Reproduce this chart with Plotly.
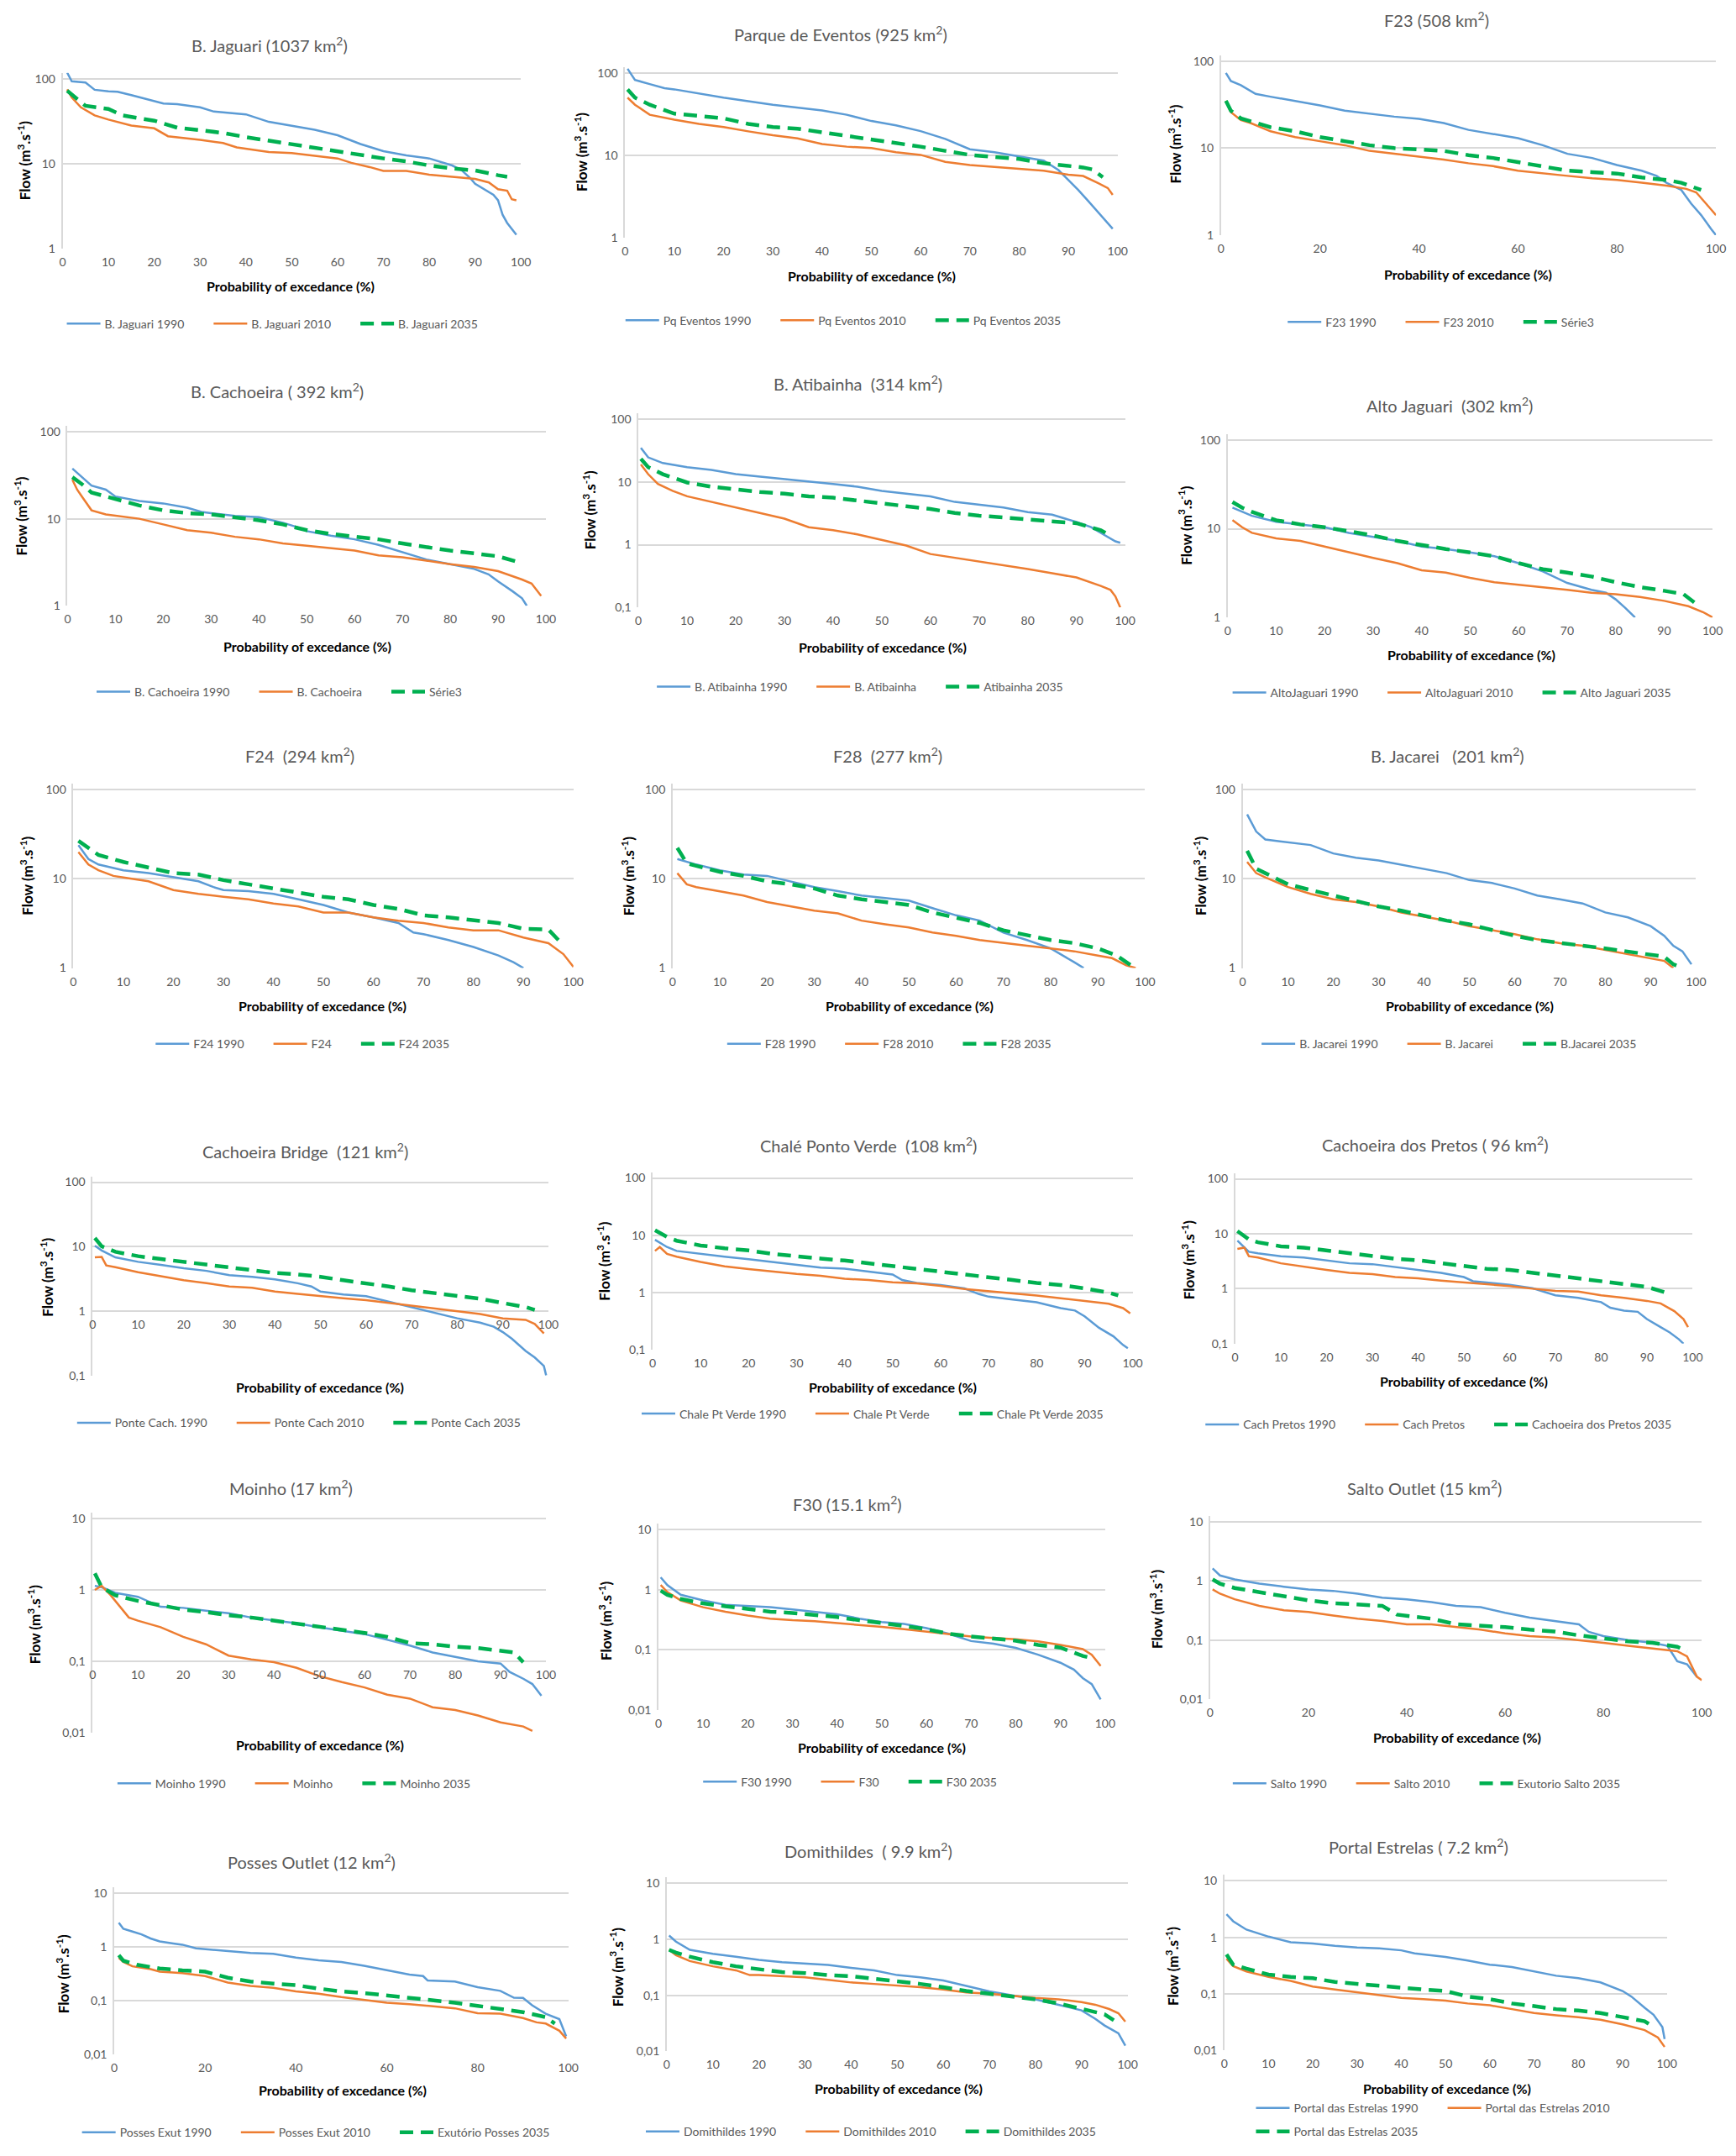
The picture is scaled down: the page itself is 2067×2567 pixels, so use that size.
import math
import plotly.graph_objects as go

W, H = 2067, 2567

# flow duration curves (x = probability of excedance %, y = flow m3/s)
JAGUARI_X90 = [1, 2, 5, 7, 10, 12, 15, 20, 22, 25, 30, 33, 40, 45, 50, 55, 60, 65, 70, 75, 80, 85, 87, 89, 90, 92, 94, 95, 96, 97, 99]
JAGUARI_Y90 = [118, 93, 90, 74, 71, 70, 64, 55, 51, 50, 46, 41, 38, 31, 28, 25, 21.6, 17, 14, 12.5, 11.5, 9.5, 8.4, 6.7, 5.8, 5.0, 4.3, 3.7, 2.5, 2.0, 1.45]
JAGUARI_X10 = [1, 2, 4, 7, 10, 15, 20, 23, 30, 35, 38, 45, 50, 55, 60, 63, 67, 70, 75, 80, 85, 90, 93, 95, 97, 98, 99]
JAGUARI_Y10 = [75, 60, 46, 37, 33, 28, 26, 21, 19, 17.5, 15.5, 13.7, 13.3, 12.3, 11.5, 10.2, 9.1, 8.2, 8.2, 7.4, 7.0, 6.6, 6.0, 5.0, 4.8, 3.8, 3.7]
JAGUARI_X35 = [1, 3, 5, 10, 13, 17, 20, 25, 30, 35, 40, 45, 50, 55, 60, 65, 70, 75, 80, 85, 90, 95, 97]
JAGUARI_Y35 = [72, 58, 48, 44, 37, 34, 32, 26.5, 25, 23, 20.5, 18.6, 16.6, 15.4, 13.7, 12.5, 11.5, 10.6, 9.5, 8.8, 8.3, 7.3, 7.0]

PARQUE_X90 = [0.5, 2, 5, 8, 10, 20, 30, 40, 45, 50, 55, 60, 65, 70, 75, 80, 85, 88, 90, 92, 94, 96, 98, 99]
PARQUE_Y90 = [112, 82, 73, 65, 63, 50, 41, 35, 31, 26, 23, 19.6, 15.8, 11.8, 10.9, 9.7, 8.6, 6.6, 5.0, 3.8, 2.8, 2.05, 1.5, 1.28]
PARQUE_X10 = [0.5, 2, 5, 10, 15, 20, 25, 30, 35, 40, 45, 50, 55, 60, 65, 70, 75, 80, 85, 90, 93, 96, 98, 99]
PARQUE_Y10 = [50, 41, 31, 27, 24, 22, 19.5, 17.5, 16, 13.7, 12.7, 12.2, 10.9, 10.1, 8.3, 7.6, 7.2, 6.8, 6.5, 5.8, 5.6, 4.6, 4.0, 3.3]
PARQUE_X35 = [0.5, 2, 5, 10, 15, 20, 25, 30, 35, 40, 45, 50, 55, 60, 65, 70, 75, 80, 85, 90, 93, 95, 97]
PARQUE_Y35 = [63, 50, 41, 32, 30, 28, 24, 22, 21, 19, 17.5, 15.5, 14, 12.7, 11.3, 10.1, 9.5, 9.0, 8.0, 7.4, 7.1, 6.7, 5.4]

F23_X90 = [1, 2, 4, 7, 10, 15, 20, 25, 30, 35, 40, 45, 50, 55, 60, 65, 70, 75, 80, 85, 88, 90, 93, 95, 97, 99, 100]
F23_Y90 = [73, 59, 53, 42, 39, 35, 31, 27, 25, 23, 21.7, 19.4, 16.2, 14.5, 13, 10.8, 8.6, 7.7, 6.4, 5.5, 4.8, 4.0, 3.3, 2.3, 1.7, 1.18, 1.0]
F23_X10 = [1, 2, 4, 6, 10, 15, 20, 25, 30, 35, 40, 45, 50, 55, 60, 65, 70, 75, 80, 85, 90, 94, 96, 98, 100]
F23_Y10 = [35, 26, 21, 19.4, 15.6, 13.4, 12, 10.8, 9.3, 8.6, 8.0, 7.4, 6.7, 6.2, 5.5, 5.1, 4.8, 4.5, 4.3, 4.0, 3.7, 3.4, 3.1, 2.3, 1.7]
F23_X35 = [1, 2, 4, 7, 10, 15, 20, 25, 30, 35, 40, 45, 50, 55, 60, 65, 70, 75, 80, 85, 90, 93, 97]
F23_Y35 = [35, 27, 22, 19.4, 17.4, 15.6, 13.4, 12, 10.8, 10, 9.6, 9.3, 8.3, 7.7, 6.9, 6.2, 5.5, 5.3, 5.1, 4.6, 4.3, 4.0, 3.3]

CACHOEIRA_X90 = [1, 3, 5, 8, 10, 15, 20, 25, 28, 30, 35, 40, 45, 48, 50, 55, 60, 65, 70, 75, 80, 85, 88, 90, 93, 95, 96]
CACHOEIRA_Y90 = [37.7, 30, 24, 21.6, 18, 16, 15, 13.4, 12, 11.6, 10.8, 10.4, 9.0, 8.0, 7.2, 6.4, 5.8, 5.0, 4.1, 3.4, 3.0, 2.65, 2.3, 1.9, 1.47, 1.22, 1.0]
CACHOEIRA_X10 = [1, 2, 3, 5, 8, 10, 15, 20, 25, 30, 35, 40, 45, 50, 55, 60, 65, 70, 75, 80, 85, 90, 95, 97, 99]
CACHOEIRA_Y10 = [28, 21.6, 18, 12.5, 11.2, 10.8, 10, 8.6, 7.4, 6.9, 6.2, 5.8, 5.2, 4.9, 4.6, 4.3, 3.8, 3.6, 3.3, 3.0, 2.8, 2.5, 2.0, 1.8, 1.3]
CACHOEIRA_X35 = [1, 3, 5, 10, 15, 20, 25, 30, 35, 40, 45, 50, 55, 60, 65, 70, 75, 80, 85, 90, 94]
CACHOEIRA_Y35 = [30, 25, 20, 17, 14.2, 12.5, 11.6, 11.2, 10.4, 9.6, 8.6, 7.4, 6.7, 6.3, 5.8, 5.2, 4.7, 4.3, 4.0, 3.7, 3.2]

ATIBAINHA_X90 = [0.5, 2, 5, 10, 15, 20, 25, 30, 35, 40, 45, 50, 55, 60, 65, 70, 75, 80, 85, 90, 93, 95, 98, 99]
ATIBAINHA_Y90 = [35, 24.6, 20, 17.2, 15.5, 13.3, 12.1, 11.1, 10.3, 9.3, 8.4, 7.2, 6.5, 5.9, 4.8, 4.3, 3.9, 3.3, 3.0, 2.3, 1.9, 1.54, 1.13, 1.07]
ATIBAINHA_X10 = [0.5, 2, 4, 7, 10, 15, 20, 25, 30, 35, 40, 45, 50, 55, 60, 65, 70, 75, 80, 85, 90, 95, 97, 98, 99]
ATIBAINHA_Y10 = [19, 13.3, 9.3, 7.2, 5.9, 4.8, 3.9, 3.2, 2.6, 1.9, 1.7, 1.46, 1.19, 0.97, 0.71, 0.62, 0.55, 0.48, 0.41, 0.35, 0.30, 0.22, 0.19, 0.15, 0.1]
ATIBAINHA_X35 = [0.5, 2, 5, 10, 15, 20, 25, 30, 35, 40, 45, 50, 55, 60, 65, 70, 75, 80, 85, 90, 95, 97]
ATIBAINHA_Y35 = [23.4, 17.2, 13.3, 9.8, 8.4, 7.6, 6.9, 6.5, 5.9, 5.6, 5.0, 4.5, 4.1, 3.7, 3.2, 2.9, 2.7, 2.6, 2.4, 2.2, 1.7, 1.39]

ALTO_X90 = [1, 3, 5, 10, 15, 20, 25, 30, 35, 40, 45, 50, 55, 60, 65, 70, 75, 78, 80, 82, 84]
ALTO_Y90 = [17.3, 15.5, 14, 12, 11.2, 10.4, 9.0, 8.1, 7.3, 6.3, 5.9, 5.4, 4.9, 4.1, 3.3, 2.45, 2.05, 1.9, 1.6, 1.28, 1.0]
ALTO_X10 = [1, 3, 5, 10, 15, 20, 25, 30, 35, 40, 45, 50, 55, 60, 65, 70, 75, 80, 85, 90, 95, 98, 100]
ALTO_Y10 = [12.5, 10.4, 9.0, 7.8, 7.3, 6.3, 5.4, 4.7, 4.1, 3.4, 3.2, 2.8, 2.5, 2.35, 2.2, 2.05, 1.9, 1.83, 1.7, 1.54, 1.34, 1.15, 1.0]
ALTO_X35 = [1, 3, 5, 10, 15, 20, 25, 30, 35, 40, 45, 50, 55, 60, 65, 70, 75, 80, 85, 90, 94, 97]
ALTO_Y35 = [20, 17.3, 15.5, 12.5, 11.2, 10.4, 9.4, 8.4, 7.3, 6.5, 5.9, 5.4, 4.9, 4.1, 3.5, 3.2, 2.9, 2.5, 2.2, 2.0, 1.83, 1.37]

F24_X90 = [1, 3, 5, 10, 15, 20, 25, 28, 30, 35, 40, 45, 50, 55, 60, 65, 68, 70, 75, 80, 85, 88, 90]
F24_Y90 = [23.9, 16.7, 14.5, 12.5, 11.6, 10.4, 9.4, 8.1, 7.5, 7.3, 6.8, 5.9, 5.1, 4.2, 3.7, 3.2, 2.5, 2.4, 2.06, 1.72, 1.38, 1.16, 1.0]
F24_X10 = [1, 3, 5, 8, 10, 15, 20, 25, 30, 35, 40, 45, 50, 55, 60, 65, 70, 75, 80, 85, 90, 95, 98, 100]
F24_Y10 = [20, 14.5, 12.5, 10.8, 10.4, 9.4, 7.5, 6.8, 6.3, 5.9, 5.3, 4.9, 4.2, 4.2, 3.7, 3.4, 3.2, 2.85, 2.65, 2.65, 2.2, 1.9, 1.43, 1.03]
F24_X35 = [1, 3, 5, 10, 15, 20, 25, 30, 35, 40, 45, 50, 55, 60, 65, 70, 75, 80, 85, 90, 95, 97]
F24_Y35 = [26.7, 22.3, 18.6, 15.5, 13.4, 11.6, 11.2, 9.7, 8.7, 7.8, 7.0, 6.3, 5.9, 5.1, 4.6, 3.9, 3.7, 3.4, 3.2, 2.75, 2.7, 2.06]

F28_X90 = [1, 3, 5, 10, 15, 20, 25, 30, 35, 40, 45, 50, 55, 60, 65, 70, 75, 80, 85, 87]
F28_Y90 = [16.7, 15.5, 14.5, 12.5, 11.2, 10.8, 9.4, 8.1, 7.3, 6.5, 6.1, 5.7, 4.7, 3.9, 3.4, 2.5, 2.06, 1.66, 1.16, 1.0]
F28_X10 = [1, 3, 5, 10, 15, 20, 25, 30, 35, 40, 45, 50, 55, 60, 65, 70, 75, 80, 85, 90, 93, 96, 98]
F28_Y10 = [11.6, 8.7, 8.1, 7.3, 6.5, 5.5, 4.9, 4.4, 4.1, 3.4, 3.1, 2.85, 2.5, 2.3, 2.06, 1.9, 1.78, 1.66, 1.54, 1.38, 1.29, 1.07, 1.0]
F28_X35 = [1, 3, 5, 10, 15, 20, 25, 30, 35, 40, 45, 50, 55, 60, 65, 70, 75, 80, 85, 90, 94, 97]
F28_Y35 = [22.3, 15, 14, 12, 10.8, 9.4, 8.7, 7.8, 6.5, 5.9, 5.5, 5.1, 4.2, 3.7, 3.2, 2.65, 2.35, 2.06, 1.9, 1.66, 1.38, 1.07]

JACAREI_X90 = [1, 2, 3, 5, 10, 15, 20, 25, 30, 35, 40, 45, 50, 55, 60, 65, 70, 75, 80, 85, 90, 93, 95, 97, 99]
JACAREI_Y90 = [53, 42.7, 34, 27.7, 25.7, 24, 19.3, 17.3, 16.1, 14.5, 12.9, 11.6, 9.7, 9.0, 7.8, 6.5, 5.9, 5.3, 4.2, 3.7, 2.95, 2.3, 1.78, 1.54, 1.1]
JACAREI_X10 = [1, 3, 5, 10, 15, 20, 25, 30, 35, 40, 45, 50, 55, 60, 65, 70, 75, 80, 85, 90, 93, 95]
JACAREI_Y10 = [15.5, 11.6, 10.4, 8.1, 6.8, 5.9, 5.5, 4.9, 4.2, 3.8, 3.4, 2.95, 2.65, 2.4, 2.1, 1.9, 1.78, 1.6, 1.43, 1.29, 1.2, 1.0]
JACAREI_X35 = [1, 3, 5, 10, 15, 20, 25, 30, 35, 40, 45, 50, 55, 60, 65, 70, 75, 80, 85, 90, 93, 95, 97]
JACAREI_Y35 = [20.7, 13, 11.6, 8.7, 7.5, 6.5, 5.7, 4.9, 4.4, 3.9, 3.4, 3.1, 2.65, 2.3, 2.06, 1.9, 1.78, 1.66, 1.54, 1.43, 1.34, 1.1, 1.0]

BRIDGE_X90 = [0.5, 2, 5, 10, 15, 20, 25, 30, 35, 40, 45, 48, 50, 55, 60, 65, 70, 75, 80, 85, 88, 90, 92, 95, 97, 99, 99.5]
BRIDGE_Y90 = [10.3, 8.7, 6.8, 5.8, 5.2, 4.6, 4.2, 3.6, 3.4, 3.1, 2.7, 2.4, 2.0, 1.8, 1.7, 1.4, 1.15, 0.94, 0.77, 0.66, 0.57, 0.47, 0.37, 0.24, 0.19, 0.14, 0.1]
BRIDGE_X10 = [0.5, 2, 3, 5, 10, 15, 20, 25, 30, 35, 40, 45, 50, 55, 60, 65, 70, 75, 80, 85, 90, 95, 97, 99]
BRIDGE_Y10 = [6.8, 6.9, 5.1, 4.8, 4.0, 3.5, 3.0, 2.7, 2.4, 2.3, 2.0, 1.85, 1.7, 1.58, 1.47, 1.33, 1.2, 1.1, 1.0, 0.9, 0.77, 0.73, 0.63, 0.45]
BRIDGE_X35 = [0.5, 2, 5, 10, 15, 20, 25, 30, 35, 40, 45, 50, 55, 60, 65, 70, 75, 80, 85, 90, 95, 97]
BRIDGE_Y35 = [13.6, 10.1, 8.3, 7.1, 6.4, 5.8, 5.3, 4.8, 4.4, 3.9, 3.7, 3.4, 3.0, 2.7, 2.4, 2.1, 1.9, 1.7, 1.55, 1.33, 1.15, 1.04]

CHALE_X90 = [0.5, 3, 5, 10, 15, 20, 25, 30, 35, 40, 45, 50, 52, 55, 60, 65, 68, 70, 75, 80, 85, 88, 90, 93, 96, 98, 99]
CHALE_Y90 = [8.3, 6.2, 5.3, 4.7, 4.2, 3.8, 3.4, 3.0, 2.7, 2.6, 2.3, 2.05, 1.64, 1.46, 1.34, 1.17, 0.93, 0.84, 0.75, 0.67, 0.53, 0.48, 0.38, 0.24, 0.17, 0.12, 0.105]
CHALE_X10 = [0.5, 1.5, 3, 5, 10, 15, 20, 25, 30, 35, 40, 45, 50, 55, 60, 65, 70, 75, 80, 85, 90, 95, 98, 99.5]
CHALE_Y10 = [5.3, 6.2, 4.7, 4.2, 3.4, 2.85, 2.55, 2.3, 2.1, 1.95, 1.73, 1.64, 1.5, 1.43, 1.3, 1.14, 1.05, 0.96, 0.88, 0.79, 0.71, 0.63, 0.53, 0.43]
CHALE_X35 = [0.5, 3, 5, 10, 15, 20, 25, 30, 35, 40, 45, 50, 55, 60, 65, 70, 75, 80, 85, 90, 95, 97]
CHALE_Y35 = [12.2, 9.3, 8.0, 6.6, 5.9, 5.4, 4.7, 4.2, 3.9, 3.6, 3.2, 2.85, 2.55, 2.3, 2.05, 1.83, 1.64, 1.46, 1.34, 1.17, 0.99, 0.88]

PRETOS_X90 = [0.5, 3, 5, 10, 15, 20, 25, 30, 35, 40, 45, 50, 52, 55, 60, 65, 70, 75, 80, 82, 85, 88, 90, 93, 95, 97, 98]
PRETOS_Y90 = [7.5, 4.7, 4.4, 3.9, 3.7, 3.3, 2.9, 2.8, 2.5, 2.2, 1.95, 1.63, 1.37, 1.3, 1.18, 1.02, 0.76, 0.68, 0.57, 0.45, 0.4, 0.38, 0.28, 0.2, 0.16, 0.12, 0.1]
PRETOS_X10 = [0.5, 2, 3, 5, 10, 15, 20, 25, 30, 35, 40, 45, 50, 55, 60, 65, 70, 75, 80, 85, 90, 93, 96, 98, 99]
PRETOS_Y10 = [5.3, 5.6, 3.9, 3.7, 2.9, 2.5, 2.2, 1.95, 1.84, 1.63, 1.54, 1.4, 1.3, 1.22, 1.12, 1.0, 0.91, 0.89, 0.76, 0.68, 0.6, 0.54, 0.39, 0.28, 0.2]
PRETOS_X35 = [0.5, 3, 5, 10, 15, 20, 25, 30, 35, 40, 45, 50, 55, 60, 65, 70, 75, 80, 85, 90, 93, 95]
PRETOS_Y35 = [11.2, 7.9, 7.0, 5.9, 5.6, 5.0, 4.4, 3.9, 3.5, 3.3, 2.9, 2.6, 2.3, 2.2, 1.95, 1.73, 1.54, 1.37, 1.22, 1.08, 0.91, 0.81]

MOINHO_X90 = [0.5, 2, 5, 10, 15, 20, 25, 30, 35, 40, 45, 50, 55, 60, 65, 70, 75, 80, 85, 90, 92, 95, 97, 99]
MOINHO_Y90 = [1.14, 1.09, 0.91, 0.8, 0.58, 0.56, 0.51, 0.47, 0.41, 0.37, 0.34, 0.30, 0.27, 0.24, 0.2, 0.166, 0.133, 0.116, 0.1, 0.093, 0.071, 0.057, 0.048, 0.033]
MOINHO_X10 = [0.5, 2, 4, 6, 8, 10, 15, 20, 25, 30, 35, 40, 45, 50, 55, 60, 65, 70, 75, 80, 85, 90, 95, 97]
MOINHO_Y10 = [1.0, 1.14, 0.84, 0.58, 0.41, 0.37, 0.30, 0.22, 0.173, 0.12, 0.106, 0.097, 0.081, 0.062, 0.051, 0.043, 0.034, 0.030, 0.0227, 0.0208, 0.0174, 0.0139, 0.0122, 0.0106]
MOINHO_X35 = [0.5, 2, 5, 10, 15, 20, 25, 30, 35, 40, 45, 50, 55, 60, 65, 70, 75, 80, 85, 90, 93, 95]
MOINHO_Y35 = [1.71, 1.09, 0.84, 0.7, 0.61, 0.53, 0.49, 0.44, 0.41, 0.37, 0.34, 0.31, 0.28, 0.25, 0.22, 0.18, 0.173, 0.16, 0.153, 0.139, 0.133, 0.097]

F30_X90 = [0.5, 2, 5, 10, 15, 20, 25, 30, 35, 40, 45, 50, 55, 60, 65, 70, 75, 80, 85, 90, 93, 95, 97, 99]
F30_Y90 = [1.6, 1.19, 0.82, 0.66, 0.56, 0.54, 0.51, 0.47, 0.43, 0.39, 0.33, 0.29, 0.27, 0.23, 0.185, 0.14, 0.127, 0.108, 0.083, 0.061, 0.047, 0.034, 0.027, 0.015]
F30_X10 = [0.5, 2, 5, 10, 15, 20, 25, 30, 35, 40, 45, 50, 55, 60, 65, 70, 75, 80, 85, 90, 95, 97, 99]
F30_Y10 = [1.19, 0.91, 0.66, 0.51, 0.43, 0.37, 0.33, 0.31, 0.30, 0.28, 0.26, 0.24, 0.22, 0.20, 0.185, 0.167, 0.157, 0.15, 0.138, 0.121, 0.103, 0.083, 0.054]
F30_X35 = [0.5, 2, 5, 10, 15, 20, 25, 30, 35, 40, 45, 50, 55, 60, 65, 70, 75, 80, 85, 90, 95, 97]
F30_Y35 = [0.96, 0.82, 0.7, 0.59, 0.53, 0.48, 0.43, 0.41, 0.38, 0.35, 0.31, 0.28, 0.25, 0.22, 0.185, 0.167, 0.152, 0.142, 0.121, 0.109, 0.079, 0.073]

SALTO_X90 = [0.5, 2, 5, 10, 15, 20, 25, 30, 35, 40, 45, 50, 55, 60, 65, 70, 75, 77, 80, 85, 90, 93, 95, 97, 99]
SALTO_Y90 = [1.63, 1.24, 1.06, 0.9, 0.8, 0.72, 0.68, 0.61, 0.52, 0.49, 0.44, 0.38, 0.36, 0.29, 0.24, 0.21, 0.185, 0.138, 0.117, 0.1, 0.09, 0.08, 0.044, 0.039, 0.024]
SALTO_X10 = [0.5, 2, 5, 10, 15, 20, 25, 30, 35, 40, 45, 50, 55, 60, 65, 70, 75, 80, 85, 90, 95, 97, 99, 100]
SALTO_Y10 = [0.72, 0.61, 0.49, 0.38, 0.32, 0.3, 0.26, 0.23, 0.21, 0.185, 0.185, 0.166, 0.15, 0.13, 0.117, 0.11, 0.1, 0.09, 0.08, 0.072, 0.065, 0.053, 0.024, 0.021]
SALTO_X35 = [0.5, 2, 5, 10, 15, 20, 25, 30, 35, 38, 40, 45, 50, 55, 60, 65, 70, 75, 80, 85, 90, 95, 97]
SALTO_Y35 = [1.06, 0.9, 0.76, 0.65, 0.55, 0.47, 0.42, 0.4, 0.38, 0.27, 0.26, 0.23, 0.185, 0.176, 0.166, 0.15, 0.14, 0.12, 0.105, 0.095, 0.09, 0.077, 0.065]

POSSES_X90 = [1, 2, 4, 6, 8, 10, 13, 15, 18, 20, 25, 30, 35, 40, 45, 50, 55, 60, 65, 68, 69, 75, 80, 85, 88, 90, 92, 95, 98, 99.5]
POSSES_Y90 = [2.85, 2.19, 1.95, 1.73, 1.45, 1.28, 1.17, 1.11, 0.95, 0.92, 0.85, 0.78, 0.75, 0.64, 0.57, 0.53, 0.45, 0.37, 0.31, 0.29, 0.24, 0.23, 0.18, 0.154, 0.115, 0.114, 0.083, 0.058, 0.046, 0.022]
POSSES_X10 = [1, 2, 4, 8, 10, 15, 20, 22, 25, 30, 35, 40, 45, 50, 55, 60, 65, 70, 75, 80, 85, 90, 93, 95, 98, 99.5]
POSSES_Y10 = [0.63, 0.53, 0.44, 0.39, 0.35, 0.33, 0.29, 0.26, 0.22, 0.19, 0.175, 0.15, 0.136, 0.118, 0.105, 0.093, 0.087, 0.08, 0.073, 0.059, 0.058, 0.048, 0.04, 0.038, 0.028, 0.02]
POSSES_X35 = [1, 2, 5, 10, 15, 20, 25, 30, 35, 40, 45, 50, 55, 60, 65, 70, 75, 80, 85, 90, 95, 97]
POSSES_Y35 = [0.71, 0.56, 0.47, 0.4, 0.37, 0.35, 0.27, 0.23, 0.21, 0.196, 0.17, 0.15, 0.14, 0.126, 0.114, 0.105, 0.093, 0.081, 0.072, 0.062, 0.05, 0.038]

DOMIT_X90 = [0.5, 2, 5, 10, 15, 20, 25, 30, 35, 40, 45, 50, 55, 60, 65, 70, 75, 80, 85, 90, 93, 95, 98, 99.5]
DOMIT_Y90 = [1.17, 0.91, 0.65, 0.55, 0.49, 0.43, 0.39, 0.37, 0.35, 0.31, 0.28, 0.23, 0.21, 0.185, 0.148, 0.118, 0.1, 0.085, 0.068, 0.054, 0.038, 0.029, 0.021, 0.0127]
DOMIT_X10 = [0.5, 2, 5, 10, 15, 18, 20, 25, 30, 35, 40, 45, 50, 55, 60, 65, 70, 75, 80, 85, 90, 93, 96, 98, 99.5]
DOMIT_Y10 = [0.65, 0.52, 0.41, 0.33, 0.28, 0.23, 0.23, 0.22, 0.21, 0.19, 0.17, 0.16, 0.15, 0.14, 0.127, 0.113, 0.107, 0.098, 0.09, 0.085, 0.076, 0.068, 0.057, 0.048, 0.034]
DOMIT_X35 = [0.5, 2, 5, 10, 15, 20, 25, 30, 35, 40, 45, 50, 55, 60, 65, 70, 75, 80, 85, 90, 93, 95, 97]
DOMIT_Y35 = [0.65, 0.58, 0.49, 0.39, 0.33, 0.29, 0.26, 0.25, 0.23, 0.22, 0.2, 0.18, 0.16, 0.14, 0.12, 0.107, 0.096, 0.085, 0.072, 0.057, 0.051, 0.046, 0.036]

PORTAL_X90 = [0.5, 2, 5, 8, 10, 15, 20, 25, 30, 35, 40, 43, 45, 50, 55, 60, 65, 70, 75, 80, 85, 90, 92, 95, 97, 99, 99.5]
PORTAL_Y90 = [2.56, 1.93, 1.37, 1.16, 1.03, 0.82, 0.78, 0.71, 0.66, 0.64, 0.59, 0.52, 0.5, 0.45, 0.39, 0.33, 0.3, 0.25, 0.21, 0.19, 0.16, 0.113, 0.09, 0.057, 0.043, 0.026, 0.016]
PORTAL_X10 = [0.5, 2, 5, 10, 15, 20, 25, 30, 35, 40, 45, 50, 55, 60, 65, 70, 75, 80, 85, 90, 95, 98, 99.5]
PORTAL_Y10 = [0.42, 0.31, 0.25, 0.2, 0.17, 0.135, 0.12, 0.107, 0.096, 0.085, 0.081, 0.076, 0.068, 0.063, 0.054, 0.046, 0.042, 0.039, 0.035, 0.029, 0.023, 0.017, 0.0116]
PORTAL_X35 = [0.5, 2, 5, 10, 15, 20, 25, 30, 35, 40, 45, 50, 55, 60, 65, 70, 75, 80, 85, 90, 95, 97]
PORTAL_Y35 = [0.5, 0.33, 0.28, 0.22, 0.2, 0.19, 0.163, 0.15, 0.14, 0.127, 0.12, 0.113, 0.09, 0.081, 0.068, 0.061, 0.054, 0.051, 0.046, 0.039, 0.033, 0.026]

TITLES = [
    "B. Jaguari (1037 km<sup>2</sup>)", "Parque de Eventos (925 km<sup>2</sup>)", "F23 (508 km<sup>2</sup>)",
    "B. Cachoeira ( 392 km<sup>2</sup>)", "B. Atibainha  (314 km<sup>2</sup>)", "Alto Jaguari  (302 km<sup>2</sup>)",
    "F24  (294 km<sup>2</sup>)", "F28  (277 km<sup>2</sup>)", "B. Jacarei   (201 km<sup>2</sup>)",
    "Cachoeira Bridge  (121 km<sup>2</sup>)", "Chalé Ponto Verde  (108 km<sup>2</sup>)", "Cachoeira dos Pretos ( 96 km<sup>2</sup>)",
    "Moinho (17 km<sup>2</sup>)", "F30 (15.1 km<sup>2</sup>)", "Salto Outlet (15 km<sup>2</sup>)",
    "Posses Outlet (12 km<sup>2</sup>)", "Domithildes  ( 9.9 km<sup>2</sup>)", "Portal Estrelas ( 7.2 km<sup>2</sup>)",
]

NAMES = [
    ["B. Jaguari 1990", "B. Jaguari 2010", "B. Jaguari 2035"],
    ["Pq Eventos 1990", "Pq Eventos 2010", "Pq Eventos 2035"],
    ["F23 1990", "F23 2010", "Série3"],
    ["B. Cachoeira 1990", "B. Cachoeira", "Série3"],
    ["B. Atibainha 1990", "B. Atibainha", "Atibainha 2035"],
    ["AltoJaguari 1990", "AltoJaguari 2010", "Alto Jaguari 2035"],
    ["F24 1990", "F24", "F24 2035"],
    ["F28 1990", "F28 2010", "F28 2035"],
    ["B. Jacarei 1990", "B. Jacarei", "B.Jacarei 2035"],
    ["Ponte Cach. 1990", "Ponte Cach 2010", "Ponte Cach 2035"],
    ["Chale Pt Verde 1990", "Chale Pt Verde", "Chale Pt Verde 2035"],
    ["Cach Pretos 1990", "Cach Pretos", "Cachoeira dos Pretos 2035"],
    ["Moinho 1990", "Moinho", "Moinho 2035"],
    ["F30 1990", "F30", "F30 2035"],
    ["Salto 1990", "Salto 2010", "Exutorio Salto 2035"],
    ["Posses Exut 1990", "Posses Exut 2010", "Exutório Posses 2035"],
    ["Domithildes 1990", "Domithildes 2010", "Domithildes 2035"],
    ["Portal das Estrelas 1990", "Portal das Estrelas 2010", "Portal das Estrelas 2035"],
]

SERIES = [
    [(JAGUARI_X90, JAGUARI_Y90), (JAGUARI_X10, JAGUARI_Y10), (JAGUARI_X35, JAGUARI_Y35)],
    [(PARQUE_X90, PARQUE_Y90), (PARQUE_X10, PARQUE_Y10), (PARQUE_X35, PARQUE_Y35)],
    [(F23_X90, F23_Y90), (F23_X10, F23_Y10), (F23_X35, F23_Y35)],
    [(CACHOEIRA_X90, CACHOEIRA_Y90), (CACHOEIRA_X10, CACHOEIRA_Y10), (CACHOEIRA_X35, CACHOEIRA_Y35)],
    [(ATIBAINHA_X90, ATIBAINHA_Y90), (ATIBAINHA_X10, ATIBAINHA_Y10), (ATIBAINHA_X35, ATIBAINHA_Y35)],
    [(ALTO_X90, ALTO_Y90), (ALTO_X10, ALTO_Y10), (ALTO_X35, ALTO_Y35)],
    [(F24_X90, F24_Y90), (F24_X10, F24_Y10), (F24_X35, F24_Y35)],
    [(F28_X90, F28_Y90), (F28_X10, F28_Y10), (F28_X35, F28_Y35)],
    [(JACAREI_X90, JACAREI_Y90), (JACAREI_X10, JACAREI_Y10), (JACAREI_X35, JACAREI_Y35)],
    [(BRIDGE_X90, BRIDGE_Y90), (BRIDGE_X10, BRIDGE_Y10), (BRIDGE_X35, BRIDGE_Y35)],
    [(CHALE_X90, CHALE_Y90), (CHALE_X10, CHALE_Y10), (CHALE_X35, CHALE_Y35)],
    [(PRETOS_X90, PRETOS_Y90), (PRETOS_X10, PRETOS_Y10), (PRETOS_X35, PRETOS_Y35)],
    [(MOINHO_X90, MOINHO_Y90), (MOINHO_X10, MOINHO_Y10), (MOINHO_X35, MOINHO_Y35)],
    [(F30_X90, F30_Y90), (F30_X10, F30_Y10), (F30_X35, F30_Y35)],
    [(SALTO_X90, SALTO_Y90), (SALTO_X10, SALTO_Y10), (SALTO_X35, SALTO_Y35)],
    [(POSSES_X90, POSSES_Y90), (POSSES_X10, POSSES_Y10), (POSSES_X35, POSSES_Y35)],
    [(DOMIT_X90, DOMIT_Y90), (DOMIT_X10, DOMIT_Y10), (DOMIT_X35, DOMIT_Y35)],
    [(PORTAL_X90, PORTAL_Y90), (PORTAL_X10, PORTAL_Y10), (PORTAL_X35, PORTAL_Y35)],
]

# panel geometry in page pixels: plot box (left, right, top decade line, bottom decade line),
# decades shown, x tick step, value where the x axis crosses, and centres of title / axis titles / legend
PANELS = [
    dict(box=(63, 613, 84, 287), dec=(0, 2), step=10, cross=None, title=(311, 43), xt=(337, 332), yt=(16, 182), leg=(315, 377)),
    dict(box=(738, 1329, 77, 274), dec=(0, 2), step=10, cross=None, title=(997, 30), xt=(1034, 320), yt=(685, 172), leg=(1000, 373)),
    dict(box=(1453, 2047, 63, 271), dec=(0, 2), step=20, cross=None, title=(1712, 13), xt=(1750, 318), yt=(1397, 162), leg=(1717, 375)),
    dict(box=(69, 643, 506, 714), dec=(0, 2), step=10, cross=None, title=(320, 457), xt=(357, 762), yt=(13, 607), leg=(323, 817)),
    dict(box=(754, 1338, 491, 716), dec=(-1, 2), step=10, cross=None, title=(1017, 448), xt=(1047, 763), yt=(695, 600), leg=(1020, 811)),
    dict(box=(1461, 2043, 516, 728), dec=(0, 2), step=10, cross=None, title=(1727, 474), xt=(1754, 773), yt=(1410, 618), leg=(1730, 818)),
    dict(box=(76, 676, 934, 1147), dec=(0, 2), step=10, cross=None, title=(348, 892), xt=(375, 1192), yt=(20, 1037), leg=(351, 1238)),
    dict(box=(795, 1362, 934, 1147), dec=(0, 2), step=10, cross=None, title=(1053, 892), xt=(1079, 1192), yt=(742, 1037), leg=(1055, 1238)),
    dict(box=(1479, 2023, 934, 1147), dec=(0, 2), step=10, cross=None, title=(1725, 892), xt=(1752, 1192), yt=(1428, 1037), leg=(1727, 1238)),
    dict(box=(99, 646, 1403, 1634), dec=(-1, 2), step=10, cross=1, title=(354, 1365), xt=(372, 1648), yt=(43, 1517), leg=(347, 1691)),
    dict(box=(771, 1347, 1398, 1603), dec=(-1, 2), step=10, cross=None, title=(1030, 1358), xt=(1059, 1648), yt=(712, 1497), leg=(1035, 1680)),
    dict(box=(1470, 2019, 1399, 1596), dec=(-1, 2), step=10, cross=None, title=(1710, 1357), xt=(1745, 1641), yt=(1413, 1496), leg=(1714, 1693)),
    dict(box=(99, 643, 1805, 2061), dec=(-2, 1), step=10, cross=0.1, title=(337, 1768), xt=(372, 2076), yt=(29, 1932), leg=(341, 2122)),
    dict(box=(778, 1314, 1818, 2034), dec=(-2, 1), step=10, cross=None, title=(1005, 1787), xt=(1046, 2079), yt=(714, 1927), leg=(1008, 2120)),
    dict(box=(1440, 2030, 1809, 2021), dec=(-2, 1), step=20, cross=None, title=(1697, 1768), xt=(1736, 2067), yt=(1375, 1913), leg=(1700, 2122)),
    dict(box=(125, 670, 2253, 2446), dec=(-2, 1), step=20, cross=None, title=(362, 2215), xt=(399, 2488), yt=(63, 2350), leg=(367, 2539)),
    dict(box=(788, 1341, 2241, 2442), dec=(-2, 1), step=10, cross=None, title=(1030, 2202), xt=(1066, 2486), yt=(728, 2341), leg=(1033, 2538)),
    dict(box=(1457, 1988, 2238, 2441), dec=(-2, 1), step=10, cross=None, title=(1690, 2197), xt=(1724, 2486), yt=(1395, 2340), leg=(1490, 2510)),
]

BLUE, ORANGE, GREEN = "#5B9BD5", "#ED7D31", "#00B050"
GRID = "#D9D9D9"
TXT = "#595959"
FONT = "Lato"
PAD = 7
GAP = "\u00a0" * 7   # wider spacing between legend entries, as in the original

TICKTEXT = {100: "100", 10: "10", 1: "1", 0.1: "0,1", 0.01: "0,01"}


def fx(px):
    return px / W


def fy(py):
    return 1 - py / H


def legend_box(x, y, anchor):
    return dict(orientation="h", x=x, y=y, xanchor=anchor, yanchor="middle",
                font=dict(family=FONT, size=14, color=TXT), itemwidth=40, bgcolor="rgba(0,0,0,0)")


fig = go.Figure()
annotations = []

for i, (panel, title, names, series) in enumerate(zip(PANELS, TITLES, NAMES, SERIES), start=1):
    sfx = "" if i == 1 else str(i)
    left, right, top, bottom = panel["box"]
    lo, hi = panel["dec"]
    per_dec = (bottom - top) / (hi - lo)

    styles = [dict(color=BLUE, width=2.5), dict(color=ORANGE, width=2.5),
              dict(color=GREEN, width=4.5, dash="16px,9px")]
    for k, ((xs, ys), name, line) in enumerate(zip(series, names, styles)):
        leg = "legend" if i == 1 else f"legend{i}"
        label = name + GAP if k < 2 else name
        if i == 18:
            label = name + GAP if k == 0 else name
            if k == 2:
                leg = "legend19"
        fig.add_trace(go.Scatter(x=xs, y=ys, mode="lines", name=label, line=line,
                                 xaxis="x" + sfx, yaxis="y" + sfx, legend=leg))

    decades = [round(10 ** d, 2) for d in range(lo, hi + 1)]
    yax = dict(type="log", domain=[fy(bottom), fy(top - PAD)], range=[lo, hi + PAD / per_dec], anchor="x" + sfx,
               tickvals=decades, ticktext=[TICKTEXT[v] for v in decades],
               showgrid=True, gridcolor=GRID, gridwidth=1.5, showline=True, linecolor=GRID, linewidth=1.5,
               ticks="", zeroline=False, tickfont=dict(family=FONT, size=14, color=TXT), ticklabelstandoff=4)
    xax = dict(domain=[fx(left), fx(right)], range=[0, 100], tickvals=list(range(0, 101, panel["step"])),
               showgrid=False, showline=False, zeroline=False, ticks="",
               tickfont=dict(family=FONT, size=14, color=TXT), ticklabelstandoff=6)
    if panel["cross"] is None:
        xax["anchor"] = "y" + sfx
    else:
        cross_px = bottom - (math.log10(panel["cross"]) - lo) * per_dec
        xax["anchor"] = "free"
        xax["position"] = fy(cross_px)
    fig.update_layout({"xaxis" + sfx: xax, "yaxis" + sfx: yax})

    annotations.append(dict(text=title, x=fx(panel["title"][0]), y=fy(panel["title"][1]),
                            font=dict(family=FONT, size=20, color=TXT)))
    annotations.append(dict(text="<b>Probability of excedance (%)</b>", x=fx(panel["xt"][0]), y=fy(panel["xt"][1]),
                            font=dict(family=FONT, size=16, color="#000000")))
    annotations.append(dict(text="<b>Flow (m<sup>3</sup>.s<sup>-1</sup>)</b>", x=fx(panel["yt"][0]), y=fy(panel["yt"][1]),
                            textangle=-90, font=dict(family=FONT, size=17, color="#000000")))

    anchor = "left" if i == 18 else "center"
    fig.update_layout({"legend" if i == 1 else f"legend{i}": legend_box(fx(panel["leg"][0]), fy(panel["leg"][1]), anchor)})

# second row of the last legend
fig.update_layout(legend19=legend_box(fx(1490), fy(2538), "left"))

for a in annotations:
    a.update(xref="paper", yref="paper", showarrow=False, xanchor="center", yanchor="middle")

fig.update_layout(width=W, height=H, margin=dict(l=0, r=0, t=0, b=0), paper_bgcolor="white",
                  plot_bgcolor="white", showlegend=True, annotations=annotations,
                  font=dict(family=FONT, color=TXT))

fig.write_html("out.html")
